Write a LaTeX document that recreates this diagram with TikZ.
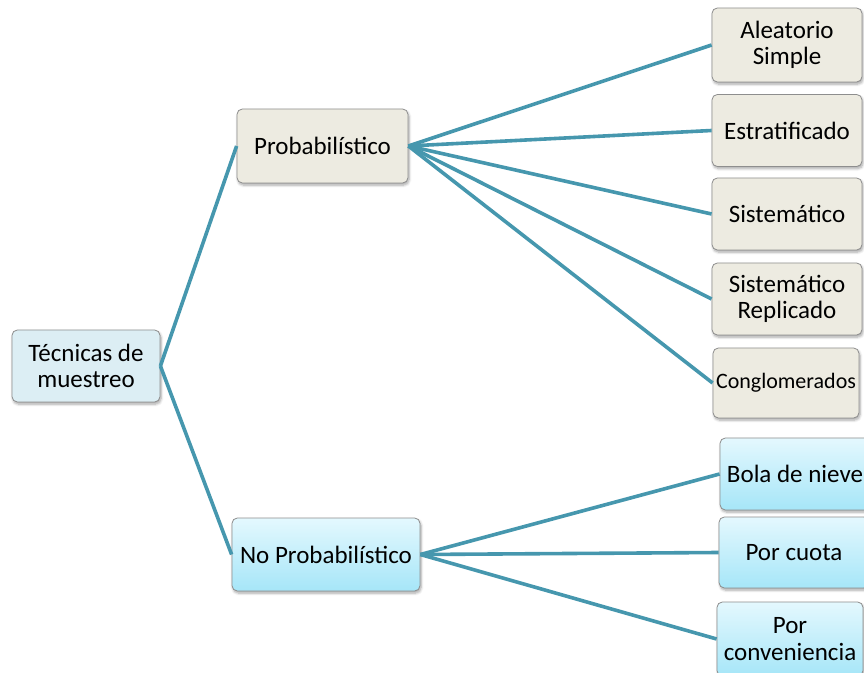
\documentclass[tikz,border=0pt]{standalone}
\usepackage{fontspec}
\setmainfont{Carlito}
\usetikzlibrary{shadows.blur}
\definecolor{rootfill}{HTML}{DCEEF4}
\definecolor{tanfill}{HTML}{EDEBE1}
\definecolor{boxline}{HTML}{8E8E8E}
\definecolor{cyantop}{HTML}{E4F8FE}
\definecolor{cyanbot}{HTML}{A6E6F8}
\definecolor{linkcol}{HTML}{4697AE}
\tikzset{
  box/.style={draw=boxline, line width=0.6pt, rounded corners=4pt, align=center,
    inner sep=1pt, font=\fontsize{18.75}{20}\selectfont,
    blur shadow={shadow blur steps=6, shadow xshift=0.8pt, shadow yshift=-1.6pt, shadow opacity=35}},
  rootbox/.style={box, fill=rootfill},
  tanbox/.style={box, fill=tanfill},
  cyanbox/.style={box, top color=cyantop, bottom color=cyanbot},
  sz/.style 2 args={minimum width={#1*0.75pt}, minimum height={#2*0.75pt}},
  link/.style={draw=linkcol, line width=2.7pt}
}
\begin{document}
\begin{tikzpicture}[x=0.75pt,y=-0.75pt]
\useasboundingbox (0,0) rectangle (864,673);
\node[rootbox, sz={148}{72}] (root) at (86,366) {Técnicas de\\muestreo};
\node[tanbox, sz={171}{74}] (prob) at (322.5,146) {Probabilístico};
\node[cyanbox, sz={188}{73}] (noprob) at (326,554.5) {No Probabilístico};
\node[tanbox, sz={150}{74}] (alea) at (787,45) {Aleatorio\\Simple};
\node[tanbox, sz={150}{72}] (estr) at (787,130.5) {Estratificado};
\node[tanbox, sz={150}{72}] (sist) at (787,214) {Sistemático};
\node[tanbox, sz={150}{72}] (sisr) at (787,299) {Sistemático\\Replicado};
\node[tanbox, sz={146}{70}, font=\fontsize{16.5}{18}\selectfont] (cong) at (786,383) {Conglomerados};
\node[cyanbox, sz={150}{72}] (bola) at (795,474) {Bola de nieve};
\node[cyanbox, sz={150}{71}] (cuota) at (794,552.5) {Por cuota};
\node[cyanbox, sz={146}{74}] (conv) at (790,639) {Por\\conveniencia};
\draw[link] (root.east) -- (prob.west);
\draw[link] (root.east) -- (noprob.west);
\foreach \t in {alea,estr,sist,sisr,cong}
  \draw[link] (prob.east) -- (\t.west);
\foreach \t in {bola,cuota,conv}
  \draw[link] (noprob.east) -- (\t.west);
\end{tikzpicture}
\end{document}
